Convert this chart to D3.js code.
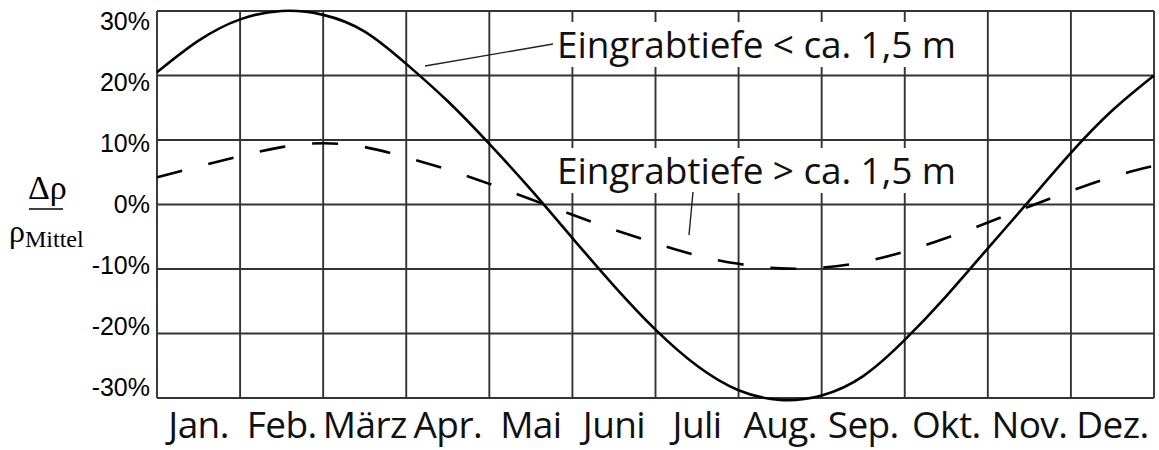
<!DOCTYPE html>
<html>
<head>
<meta charset="utf-8">
<script src="https://cdn.jsdelivr.net/npm/d3@7"></script>
<style>
  html, body { margin: 0; padding: 0; background: #fff; }
  svg { display: block; }
</style>
</head>
<body>
<svg id="chart" width="1159" height="450"></svg>
<script>
// Month names along the bottom axis
const months = ["Jan.", "Feb.", "März", "Apr.", "Mai", "Juni", "Juli", "Aug.", "Sep.", "Okt.", "Nov.", "Dez."];

// Position in the year (in months, 0 = start of January), sampled every half month
const monthPos = [0, 0.5, 1, 1.5, 2, 2.5, 3, 3.5, 4, 4.5, 5, 5.5, 6, 6.5, 7, 7.5, 8, 8.5, 9, 9.5, 10, 10.5, 11, 11.5, 12];

// Relative deviation of soil resistivity (%), burial depth < ca. 1.5 m
const shallow = [20.5, 25.4, 28.7, 30, 29.4, 26.8, 21.8, 16, 9.4, 2.3, -5.2, -12.6, -19.4, -25, -28.8, -30.3, -29.6, -26.6, -21, -14.2, -6.8, 0.6, 8, 14.6, 20];

// Relative deviation of soil resistivity (%), burial depth > ca. 1.5 m
const deep = [4.2, 5.9, 7.5, 8.9, 9.5, 8.9, 7.3, 5.4, 3.2, 0.8, -1.6, -3.9, -6.0, -7.9, -9.2, -9.9, -9.8, -8.9, -7.3, -5.2, -2.8, -0.3, 2.1, 4.3, 6.0];

// Y-axis tick values (%)
const yTicks = [30, 20, 10, 0, -10, -20, -30];

const labelShallow = "Eingrabtiefe < ca. 1,5 m";
const labelDeep = "Eingrabtiefe > ca. 1,5 m";

const svg = d3.select("#chart");
const plotLeft = 157, plotRight = 1154, plotTop = 11, plotBottom = 398;

const x = d3.scaleLinear().domain([0, 12]).range([plotLeft, plotRight]);
const xBand = d3.scaleBand().domain(months).range([plotLeft, plotRight]).padding(0);
const y = d3.scaleLinear().domain([-30, 30]).range([plotBottom, plotTop]);
// tick labels sit on a slightly tighter ladder than the grid lines
const yLabel = d3.scaleLinear().domain([-30, 30]).range([387, 21]);

const gridColor = "#333";
const sansFont = "'Open Sans', 'Noto Sans', sans-serif";

// Grid
const grid = svg.append("g").attr("class", "grid");
grid.selectAll("line.v")
  .data(d3.range(0, 13))
  .join("line")
  .attr("class", "v")
  .attr("x1", d => x(d)).attr("x2", d => x(d))
  .attr("y1", y(30)).attr("y2", y(-30))
  .attr("stroke", gridColor).attr("stroke-width", 1.9);
grid.selectAll("line.h")
  .data(yTicks)
  .join("line")
  .attr("class", "h")
  .attr("x1", x(0)).attr("x2", x(12))
  .attr("y1", d => y(d)).attr("y2", d => y(d))
  .attr("stroke", gridColor).attr("stroke-width", 1.9);

// Y axis labels
const yAxis = d3.axisLeft(yLabel).tickValues(yTicks).tickSize(0).tickPadding(7).tickFormat(d => d + "%");
const gy = svg.append("g").attr("transform", `translate(${plotLeft},0)`).call(yAxis);
gy.select(".domain").remove();
gy.selectAll("text")
  .attr("font-family", "Arial, 'Liberation Sans', sans-serif")
  .attr("font-size", 25)
  .attr("fill", "#000");

// Month labels
const xAxis = d3.axisBottom(xBand).tickSize(0).tickPadding(0);
const gx = svg.append("g").attr("transform", `translate(0,${plotBottom})`).call(xAxis);
gx.select(".domain").remove();
gx.selectAll("text")
  .attr("dy", null)
  .attr("y", 40)
  .attr("font-family", sansFont)
  .attr("font-size", 37)
  .attr("letter-spacing", -0.6)
  .attr("fill", "#111");

// Series
const rows = (vals) => monthPos.map((m, i) => ({ m, v: vals[i] }));
const line = d3.line()
  .x(d => x(d.m))
  .y(d => y(d.v))
  .curve(d3.curveNatural);

// Label with a white backing box
function labelBox(text, xPos, yBase) {
  const g = svg.append("g");
  const t = g.append("text")
    .attr("x", xPos).attr("y", yBase)
    .attr("font-family", sansFont)
    .attr("font-size", 37)
    .attr("letter-spacing", -0.1)
    .attr("fill", "#111")
    .text(text);
  const bb = t.node().getBBox();
  g.insert("rect", "text")
    .attr("x", bb.x - 4).attr("y", bb.y + 4)
    .attr("width", bb.width + 8).attr("height", bb.height - 6)
    .attr("fill", "#fff");
  return g;
}

svg.append("path")
  .datum(rows(deep))
  .attr("d", line)
  .attr("fill", "none")
  .attr("stroke", "#000")
  .attr("stroke-width", 2.6)
  .attr("stroke-dasharray", "26 27");

svg.append("path")
  .datum(rows(shallow))
  .attr("d", line)
  .attr("fill", "none")
  .attr("stroke", "#000")
  .attr("stroke-width", 2.6);

labelBox(labelShallow, 557, 58);
labelBox(labelDeep, 557, 184);

// Leader lines
svg.append("line")
  .attr("x1", 425).attr("y1", 66).attr("x2", 553).attr("y2", 44)
  .attr("stroke", "#222").attr("stroke-width", 1.4);
svg.append("line")
  .attr("x1", 693).attr("y1", 192).attr("x2", 689).attr("y2", 235)
  .attr("stroke", "#222").attr("stroke-width", 1.4);

// Y-axis title: Δρ / ρ_Mittel
const serif = "'Times New Roman', 'Liberation Serif', serif";
svg.append("text")
  .attr("x", 28).attr("y", 199)
  .attr("font-family", serif).attr("font-size", 34).attr("fill", "#000")
  .text("Δρ");
svg.append("line")
  .attr("x1", 29).attr("x2", 63).attr("y1", 209).attr("y2", 209)
  .attr("stroke", "#000").attr("stroke-width", 1.6);
const denom = svg.append("text")
  .attr("x", 9).attr("y", 242)
  .attr("font-family", serif).attr("font-size", 32).attr("fill", "#000");
denom.append("tspan").text("ρ");
denom.append("tspan").attr("font-size", 24).attr("dy", 5).text("Mittel");
</script>
</body>
</html>
